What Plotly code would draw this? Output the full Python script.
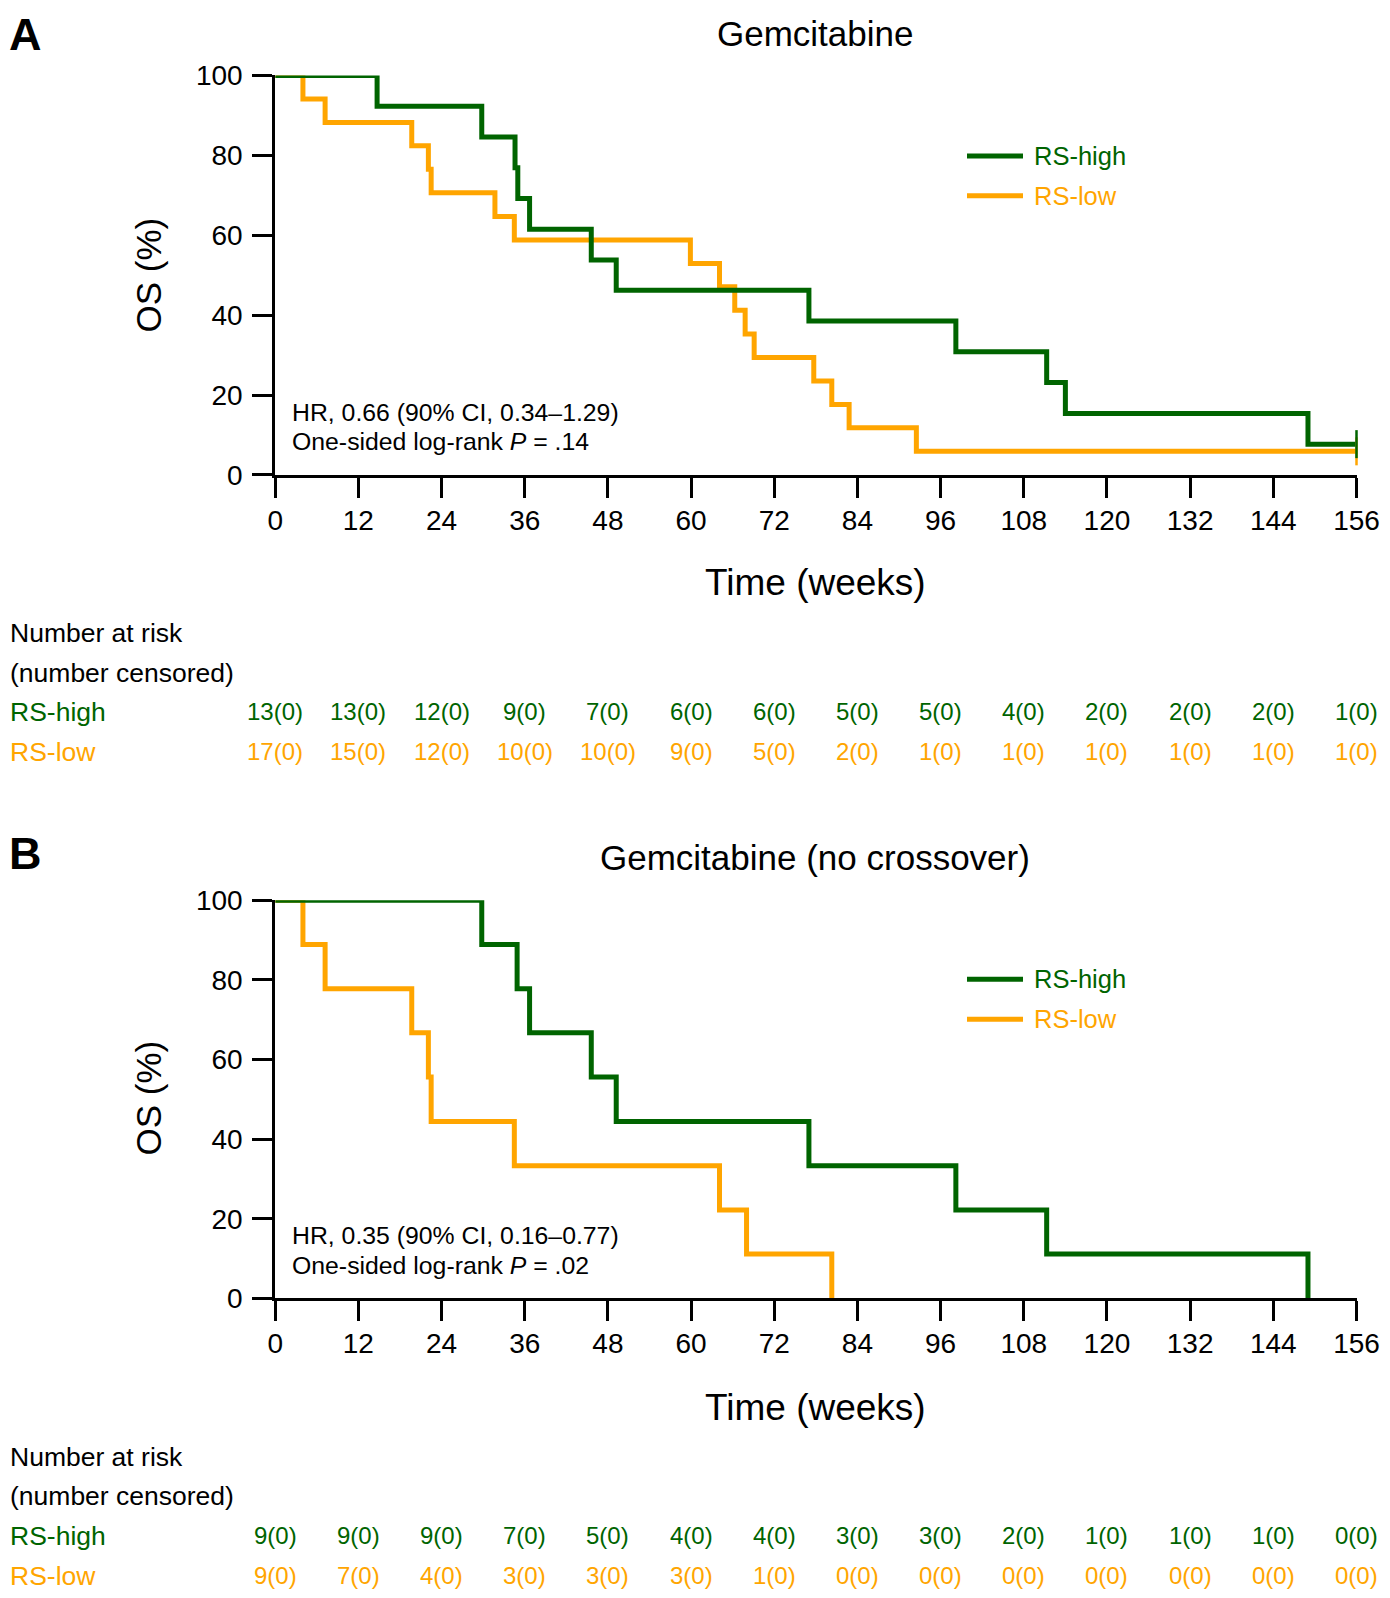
import plotly.graph_objects as go

# the page body adds an 8 px margin, so the figure is drawn 16 px smaller
# and every position below is given in page pixels, then shifted by OFF
PAGE_W, PAGE_H = 1390, 1598
OFF = 8
W, H = PAGE_W - 2 * OFF, PAGE_H - 2 * OFF

GREEN = "#006400"
ORANGE = "#FFA500"
FONT = "Liberation Sans, Arial, sans-serif"

week_ticks = [0, 12, 24, 36, 48, 60, 72, 84, 96, 108, 120, 132, 144, 156]
os_ticks = [0, 20, 40, 60, 80, 100]

# panel A: Gemcitabine (all patients)
a_title = "Gemcitabine"
a_high_times = [14.7, 29.8, 34.6, 35.0, 36.7, 45.6, 49.2, 77.0, 98.2, 111.3, 114.0, 149.0]
a_high_os = [92.3, 84.6, 76.9, 69.2, 61.5, 53.8, 46.2, 38.5, 30.8, 23.1, 15.4, 7.7]
a_low_times = [4.0, 7.2, 19.7, 22.1, 22.5, 31.7, 34.5, 59.9, 64.1, 66.3, 67.8, 69.1,
               77.7, 80.3, 82.8, 92.5]
a_low_os = [94.1, 88.2, 82.4, 76.5, 70.6, 64.7, 58.8, 52.9, 47.1, 41.2, 35.3, 29.4,
            23.5, 17.6, 11.8, 5.9]
a_followup = 156
a_censor = [156]
a_high_risk = ["13(0)", "13(0)", "12(0)", "9(0)", "7(0)", "6(0)", "6(0)", "5(0)",
               "5(0)", "4(0)", "2(0)", "2(0)", "2(0)", "1(0)"]
a_low_risk = ["17(0)", "15(0)", "12(0)", "10(0)", "10(0)", "9(0)", "5(0)", "2(0)",
              "1(0)", "1(0)", "1(0)", "1(0)", "1(0)", "1(0)"]
a_stats = ["HR, 0.66 (90% CI, 0.34\u20131.29)", "One-sided log-rank <i>P</i> = .14"]

# panel B: Gemcitabine, no crossover
b_title = "Gemcitabine (no crossover)"
b_high_times = [29.8, 34.9, 36.7, 45.6, 49.2, 77.0, 98.2, 111.3, 149.0]
b_high_os = [88.9, 77.8, 66.7, 55.6, 44.4, 33.3, 22.2, 11.1, 0.0]
b_low_times = [4.0, 7.2, 19.7, 22.1, 22.5, 34.5, 64.1, 68.0, 80.3]
b_low_os = [88.9, 77.8, 66.7, 55.6, 44.4, 33.3, 22.2, 11.1, 0.0]
b_high_risk = ["9(0)", "9(0)", "9(0)", "7(0)", "5(0)", "4(0)", "4(0)", "3(0)",
               "3(0)", "2(0)", "1(0)", "1(0)", "1(0)", "0(0)"]
b_low_risk = ["9(0)", "7(0)", "4(0)", "3(0)", "3(0)", "3(0)", "1(0)", "0(0)",
              "0(0)", "0(0)", "0(0)", "0(0)", "0(0)", "0(0)"]
b_stats = ["HR, 0.35 (90% CI, 0.16\u20130.77)", "One-sided log-rank <i>P</i> = .02"]


def fx(px):
    return (px - OFF) / W


def fy(px):
    return 1 - (px - OFF) / H


def km_trace(times, os_vals, color, xa, ya, followup=None):
    x = [0] + list(times)
    y = [100] + list(os_vals)
    if followup is not None:
        x.append(followup)
        y.append(os_vals[-1])
    return go.Scatter(x=x, y=y, mode="lines", line_shape="hv",
                      line=dict(color=color, width=5),
                      xaxis=xa, yaxis=ya, showlegend=False, hoverinfo="skip")


def censor_trace(times, os_vals, color, xa, ya):
    return go.Scatter(x=times, y=[os_vals[-1]] * len(times), mode="markers",
                      marker=dict(symbol="line-ns", size=20,
                                  line=dict(color=color, width=2.5)),
                      cliponaxis=False, xaxis=xa, yaxis=ya,
                      showlegend=False, hoverinfo="skip")


fig = go.Figure()

panels = [
    dict(xa="x", ya="y", top=75.4, bottom=474.9, letter="A", letter_y=8,
         title=a_title, title_y=33.5, stats=a_stats, stats_y=[412, 441],
         legend_y=[156, 195.7], xtitle_y=582, ytitle_y=275.5,
         risk_y=[633.3, 673, 711.7, 751.7],
         high=(a_high_times, a_high_os), low=(a_low_times, a_low_os),
         followup=a_followup, censor=a_censor,
         high_risk=a_high_risk, low_risk=a_low_risk),
    dict(xa="x2", ya="y2", top=900.3, bottom=1298.3, letter="B", letter_y=827,
         title=b_title, title_y=857, stats=b_stats, stats_y=[1235, 1265],
         legend_y=[979.3, 1019.3], xtitle_y=1407.5, ytitle_y=1098.5,
         risk_y=[1456.5, 1496, 1535.5, 1575.5],
         high=(b_high_times, b_high_os), low=(b_low_times, b_low_os),
         followup=None, censor=[],
         high_risk=b_high_risk, low_risk=b_low_risk),
]

x_left, x_right = 275.2, 1356.5
annotations = []
shapes = []


def note(text, x, y, size, color="black", xanchor="left", **kw):
    d = dict(text=text, x=x, y=y, xref=kw.pop("xref", "paper"), yref="paper",
             xanchor=xanchor, yanchor=kw.pop("yanchor", "middle"), showarrow=False,
             font=dict(family=FONT, size=size, color=color))
    d.update(kw)
    annotations.append(d)


for p in panels:
    fig.add_trace(km_trace(*p["low"], ORANGE, p["xa"], p["ya"], p["followup"]))
    fig.add_trace(km_trace(*p["high"], GREEN, p["xa"], p["ya"], p["followup"]))
    if p["censor"]:
        fig.add_trace(censor_trace(p["censor"], p["low"][1], ORANGE, p["xa"], p["ya"]))
        fig.add_trace(censor_trace(p["censor"], p["high"][1], GREEN, p["xa"], p["ya"]))

    # panel letter anchored by its top edge so it stays inside the page
    note("<b>%s</b>" % p["letter"], fx(8), fy(p["letter_y"]), 45, yanchor="top",
         borderpad=0)
    note(p["title"], fx(815), fy(p["title_y"]), 35, xanchor="center")
    note("OS (%)", fx(148), fy(p["ytitle_y"]), 35, xanchor="center", textangle=-90)
    note("Time (weeks)", fx(815), fy(p["xtitle_y"]), 37, xanchor="center")
    for txt, yy in zip(p["stats"], p["stats_y"]):
        note(txt, fx(290), fy(yy), 24.8)
    # legend drawn by hand (long line samples, coloured labels)
    for name, color, yy in zip(["RS-high", "RS-low"], [GREEN, ORANGE], p["legend_y"]):
        shapes.append(dict(type="line", xref="paper", yref="paper",
                           x0=fx(967), x1=fx(1023), y0=fy(yy), y1=fy(yy),
                           line=dict(color=color, width=5)))
        note(name, fx(1032), fy(yy), 25.5, color)
    # number at risk table
    ry = p["risk_y"]
    for txt, yy in zip(["Number at risk", "(number censored)"], ry[:2]):
        note(txt, fx(8), fy(yy), 26.5)
    for name, color, yy, counts in zip(["RS-high", "RS-low"], [GREEN, ORANGE], ry[2:],
                                       [p["high_risk"], p["low_risk"]]):
        note(name, fx(8), fy(yy), 26.5, color)
        for t, c in zip(week_ticks, counts):
            note(c, t, fy(yy), 24, color, xanchor="center", xref=p["xa"])

axis_common = dict(showline=True, linecolor="black", linewidth=3, ticks="outside",
                   ticklen=20, tickwidth=3, tickcolor="black", showgrid=False,
                   zeroline=False, automargin=False,
                   tickfont=dict(family=FONT, size=28, color="black"))

layout_axes = {}
for i, p in enumerate(panels):
    suffix = "" if i == 0 else str(i + 1)
    layout_axes["xaxis" + suffix] = dict(
        axis_common, domain=[fx(x_left), fx(x_right)], range=[0, 156],
        tickvals=week_ticks, anchor="y" + suffix, ticklabelstandoff=-2)
    layout_axes["yaxis" + suffix] = dict(
        axis_common, domain=[fy(p["bottom"]), fy(p["top"])], range=[0, 100],
        tickvals=os_ticks, anchor="x" + suffix, ticklabelstandoff=4)

fig.update_layout(width=W, height=H,
                  margin=dict(l=0, r=0, t=0, b=0, pad=0, autoexpand=False),
                  paper_bgcolor="white", plot_bgcolor="white",
                  annotations=annotations, shapes=shapes, showlegend=False,
                  **layout_axes)

fig.write_html("out.html")
